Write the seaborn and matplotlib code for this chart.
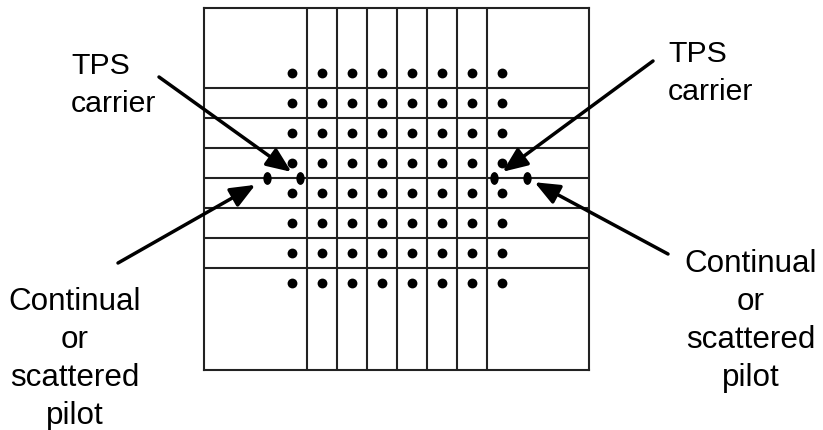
import numpy as np
import pandas as pd
import seaborn as sns
import matplotlib.pyplot as plt
from matplotlib.path import Path

# 64-QAM constellation levels plus boosted TPS / pilot carriers (on the real axis)
qam_levels = [-7, -5, -3, -1, 1, 3, 5, 7]
boundaries = [-6, -4, -2, 0, 2, 4, 6]
tps_x = [-6.48, 6.48]
pilot_x = [-8.64, 8.64]

sns.set_style("white")
plt.rcParams['font.family'] = ['Liberation Sans', 'DejaVu Sans']
plt.rcParams['text.color'] = 'black'

qi, qq = np.meshgrid(qam_levels, qam_levels)
df_qam = pd.DataFrame({"I": qi.ravel(), "Q": qq.ravel()})
df_ref = pd.DataFrame({"I": tps_x + pilot_x, "Q": [0, 0, 0, 0]})

# slightly tall blob for the boosted carriers
circ = Path.unit_circle()
ellipse = Path(circ.vertices * [0.65, 1.0], circ.codes)

W, H = 823, 431
fig = plt.figure(figsize=(W / 100, H / 100), dpi=100)
ax = fig.add_axes([204 / W, 60 / H, 385 / W, 362 / H])

sns.scatterplot(data=df_qam, x="I", y="Q", ax=ax, color="black", s=50, linewidth=0, marker="o")
sns.scatterplot(data=df_ref, x="I", y="Q", ax=ax, color="black", s=85, linewidth=0, marker=ellipse)

ax.set_xlim(-12.87, 12.8)
ax.set_ylim(-12.8, 11.33)
ax.set_xticks(boundaries)
ax.set_yticks(boundaries)
ax.tick_params(length=0, labelbottom=False, labelleft=False)
ax.set_xlabel("")
ax.set_ylabel("")
ax.grid(True, color="#222222", linewidth=1.5)
ax.set_axisbelow(True)
for sp in ax.spines.values():
    sp.set_color("#222222")
    sp.set_linewidth(1.5)

fs_top = 21.8
fs_bot = 22.6

# va="baseline" on multi-line text lines up the last line's baseline
fig.text(71 / W, (H - 112) / H, "TPS\ncarrier", fontsize=fs_top, ha="left", va="baseline", linespacing=1.45)
fig.text(668 / W, (H - 100) / H, "TPS\ncarrier", fontsize=fs_top, ha="left", va="baseline", linespacing=1.45)
fig.text(74.5 / W, (H - 424) / H, "Continual\nor\nscattered\npilot", fontsize=fs_bot,
         ha="center", va="baseline", multialignment="center", linespacing=1.35)
fig.text(751 / W, (H - 386) / H, "Continual\nor\nscattered\npilot", fontsize=fs_bot,
         ha="center", va="baseline", multialignment="center", linespacing=1.35)

arrow = dict(arrowstyle="-|>,head_length=0.6,head_width=0.25", mutation_scale=25,
             color="black", lw=2.5, shrinkA=0)
ax.annotate("", xy=(tps_x[0], 0), xytext=(159, H - 78), textcoords="figure pixels",
            arrowprops=dict(arrow, shrinkB=7.5))
ax.annotate("", xy=(pilot_x[0], 0), xytext=(118, H - 264), textcoords="figure pixels",
            arrowprops=dict(arrow, shrinkB=10))
ax.annotate("", xy=(tps_x[1], 0), xytext=(653, H - 62), textcoords="figure pixels",
            arrowprops=dict(arrow, shrinkB=7.5))
ax.annotate("", xy=(pilot_x[1], 0), xytext=(668, H - 255), textcoords="figure pixels",
            arrowprops=dict(arrow, shrinkB=6.5))

fig.savefig("out.png", dpi=100)
